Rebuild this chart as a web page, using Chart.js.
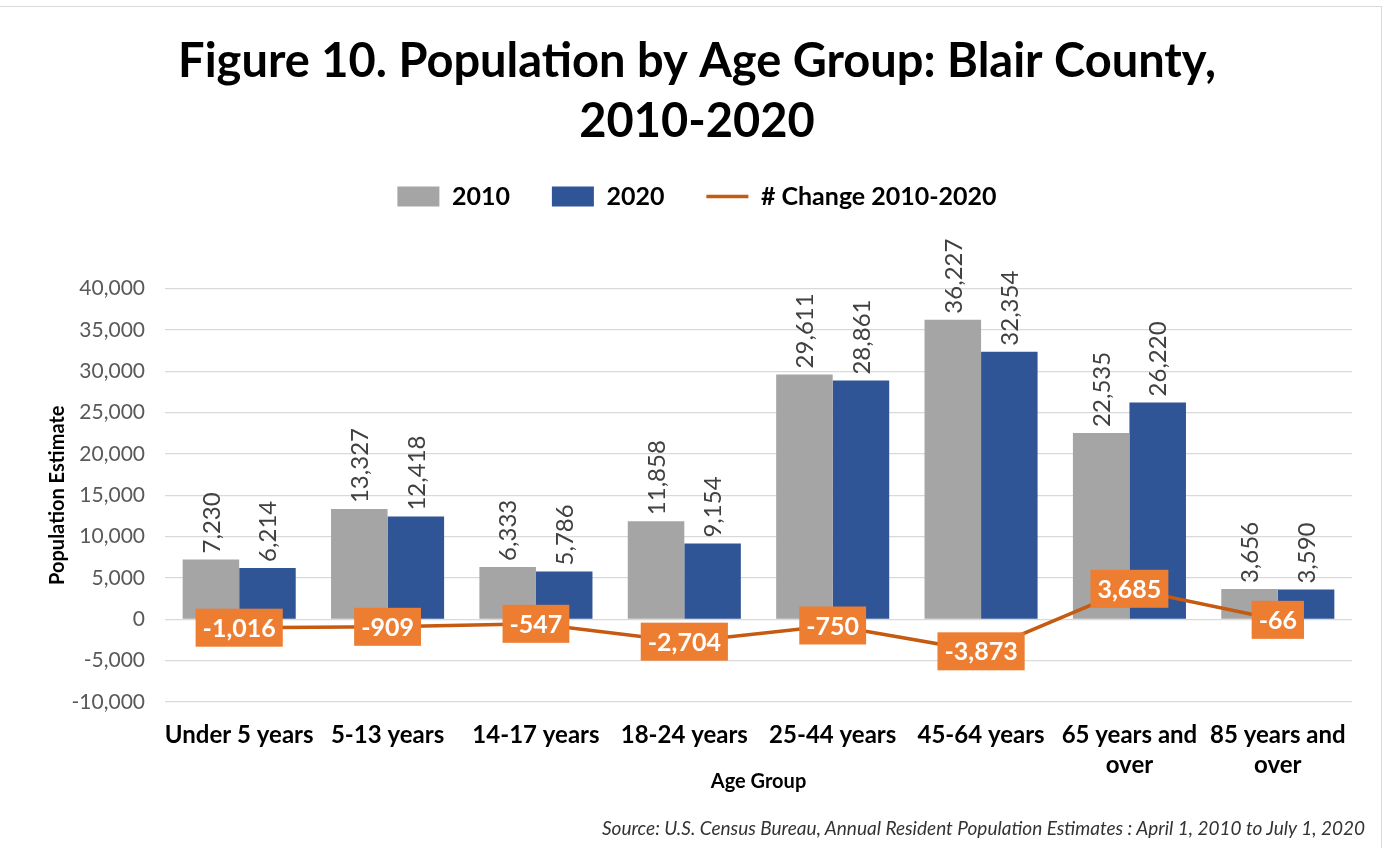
<!DOCTYPE html>
<html>
<head>
<meta charset="utf-8">
<title>Population by Age Group: Blair County, 2010-2020</title>
<script src="https://cdn.jsdelivr.net/npm/chart.js@4.4.1/dist/chart.umd.min.js"></script>
<style>
  body { margin: 0; background: #fff; }
  #wrap { position: relative; width: 1385px; height: 848px; overflow: hidden; }
  #frame { position: absolute; left: -1px; top: 6px; width: 1383px; height: 860px; border: 1px solid #d9d9d9; box-sizing: border-box; pointer-events: none; }
  #source { position: absolute; right: 20px; top: 816px; font: italic 19px Lato, sans-serif; color: #333; white-space: nowrap; }
</style>
</head>
<body>
<div id="wrap">
  <canvas id="popChart" width="1385" height="848"></canvas>
  <div id="frame"></div>
  <div id="source">Source: U.S. Census Bureau, Annual Resident Population Estimates : April 1, 2010 to July 1, 2020</div>
</div>
<script>
const ageGroups = ['Under 5 years', '5-13 years', '14-17 years', '18-24 years', '25-44 years', '45-64 years', ['65 years and', 'over'], ['85 years and', 'over']];
const pop2010 = [7230, 13327, 6333, 11858, 29611, 36227, 22535, 3656];
const pop2020 = [6214, 12418, 5786, 9154, 28861, 32354, 26220, 3590];
const change = [-1016, -909, -547, -2704, -750, -3873, 3685, -66];

const fmt = v => v.toLocaleString('en-US');

// rotated labels over the bars, orange boxes on the change line
const valueLabels = {
    id: 'valueLabels',
    afterDatasetsDraw(chart) {
        const ctx = chart.ctx;
        ctx.save();
        [0, 1].forEach(di => {
            chart.getDatasetMeta(di).data.forEach((bar, i) => {
                ctx.save();
                ctx.translate(bar.x, bar.y - 6);
                ctx.rotate(-Math.PI / 2);
                ctx.font = '24px Lato';
                ctx.fillStyle = '#404040';
                ctx.textAlign = 'left';
                ctx.textBaseline = 'middle';
                ctx.fillText(fmt(chart.data.datasets[di].data[i]), 0, 1);
                ctx.restore();
            });
        });
        ctx.font = 'bold 25px Lato';
        ctx.textAlign = 'center';
        ctx.textBaseline = 'middle';
        chart.getDatasetMeta(2).data.forEach((pt, i) => {
            const txt = fmt(change[i]);
            const w = ctx.measureText(txt).width + 14;
            const h = 38;
            ctx.fillStyle = '#ED7D31';
            ctx.fillRect(pt.x - w / 2, pt.y - h / 2, w, h);
            ctx.fillStyle = '#ffffff';
            ctx.fillText(txt, pt.x, pt.y + 1);
        });
        ctx.restore();
    }
};

new Chart(document.getElementById('popChart'), {
    type: 'bar',
    data: {
        labels: ageGroups,
        datasets: [{
            label: '2010',
            data: pop2010,
            backgroundColor: '#A5A5A5',
            pointStyle: 'rect',
            xAxisID: 'x',
            order: 1
        }, {
            label: '2020',
            data: pop2020,
            backgroundColor: '#2F5597',
            pointStyle: 'rect',
            xAxisID: 'x',
            order: 1
        }, {
            type: 'line',
            label: '# Change 2010-2020',
            data: change,
            borderColor: '#C55A11',
            backgroundColor: '#C55A11',
            borderWidth: 3.5,
            pointRadius: 0,
            pointStyle: 'line',
            tension: 0,
            xAxisID: 'x',
            order: 0
        }]
    },
    options: {
        responsive: false,
        animation: false,
        layout: { padding: { left: 42, right: 33, top: 0, bottom: 0 } },
        datasets: {
            bar: { barPercentage: 1, categoryPercentage: 0.762 }
        },
        plugins: {
            title: {
                display: true,
                text: 'Figure 10. Population by Age Group: Blair County,',
                color: '#000',
                font: { family: 'Lato', size: 47, weight: 'bold', lineHeight: 1.2 },
                padding: { top: 33.8, bottom: 0 }
            },
            subtitle: {
                display: true,
                text: '2010-2020',
                color: '#000',
                font: { family: 'Lato', size: 47, weight: 'bold', lineHeight: 0.85 },
                padding: { top: 11.8, bottom: 0 }
            },
            legend: {
                position: 'top',
                labels: {
                    usePointStyle: true,
                    pointStyleWidth: 42,
                    boxHeight: 20,
                    padding: 42,
                    color: '#000',
                    font: { family: 'Lato', size: 25, weight: 'bold' },
                    sort: (a, b) => a.datasetIndex - b.datasetIndex
                }
            },
            tooltip: { enabled: false }
        },
        scales: {
            xTop: {
                type: 'category',
                position: 'top',
                grid: { display: false, drawTicks: false },
                border: { display: false },
                ticks: { display: false },
                afterFit: s => { s.height = 69.5; }
            },
            x: {
                position: 'bottom',
                grid: { display: false, drawTicks: false },
                border: { display: false },
                ticks: {
                    color: '#000',
                    padding: 18,
                    maxRotation: 0,
                    autoSkip: false,
                    font: { family: 'Lato', size: 24, weight: 'bold', lineHeight: 1.25 }
                },
                title: {
                    display: true,
                    text: 'Age Group',
                    color: '#000',
                    font: { family: 'Lato', size: 20, weight: 'bold' },
                    padding: { top: 0, bottom: 54 }
                },
                afterFit: s => { s.height = 146; }
            },
            y: {
                min: -10000,
                max: 40000,
                grid: { color: '#d9d9d9', lineWidth: 1.3, drawTicks: false },
                border: { display: false },
                ticks: {
                    stepSize: 5000,
                    padding: 20,
                    color: '#595959',
                    font: { family: 'Lato', size: 21 },
                    callback: v => fmt(v)
                },
                title: {
                    display: true,
                    text: 'Population Estimate',
                    color: '#000',
                    font: { family: 'Lato', size: 20, weight: 'bold' },
                    padding: { top: 4, bottom: 0 }
                },
                afterFit: s => { s.width = 123; }
            }
        }
    },
    plugins: [valueLabels]
});
</script>
</body>
</html>
